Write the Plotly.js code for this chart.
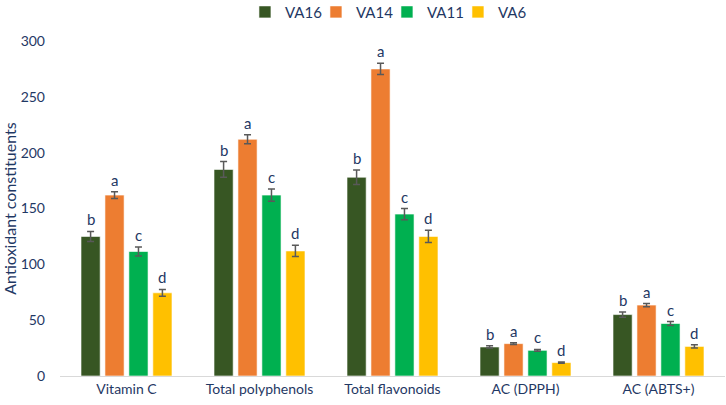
<!DOCTYPE html>
<html>
<head>
<meta charset="utf-8">
<script src="https://cdn.plot.ly/plotly-3.0.1.min.js"></script>
<style>html,body{margin:0;padding:0;background:#fff;}#chart{width:726px;height:405px;}</style>
</head>
<body>
<div id="chart"></div>
<script>
const categories = ["Vitamin C", "Total polyphenols", "Total flavonoids", "AC (DPPH)", "AC (ABTS+)"];
const seriesNames = ["VA16", "VA14", "VA11", "VA6"];
const va16 = [125, 185, 178, 26, 55];
const va14 = [162, 212, 275, 29, 63.5];
const va11 = [111.5, 162, 145, 23, 47];
const va6 = [74.5, 112, 125, 12, 26.5];
const va16Err = [4.5, 7, 6.5, 1, 2.3];
const va14Err = [3, 4, 5, 0.7, 1.4];
const va11Err = [4, 5.5, 5, 0.8, 1.8];
const va6Err = [3, 5, 5.5, 0.6, 1.5];
const va16Letters = ["b", "b", "b", "b", "b"];
const va14Letters = ["a", "a", "a", "a", "a"];
const va11Letters = ["c", "c", "c", "c", "c"];
const va6Letters = ["d", "d", "d", "d", "d"];
const yTicks = [0, 50, 100, 150, 200, 250, 300];

const values = [va16, va14, va11, va6];
const errs = [va16Err, va14Err, va11Err, va6Err];
const letters = [va16Letters, va14Letters, va11Letters, va6Letters];
const colors = ["#375623", "#ED7D31", "#00B050", "#FFC000"];
const navy = "#1F3864";
const fam = "Lato, 'Open Sans', sans-serif";
const bargap = 0.28;
const nS = seriesNames.length;
const slot = (1 - bargap) / nS;

const traces = seriesNames.map((name, s) => ({
  type: "bar",
  name: name,
  x: categories,
  y: values[s],
  marker: {color: colors[s], line: {color: "#ffffff", width: 0.6}},
  error_y: {type: "data", array: errs[s], visible: true, color: "#595959", thickness: 1.5, width: 3.5},
  hoverinfo: "x+y+name"
}));

const annotations = [];
seriesNames.forEach((name, s) => {
  categories.forEach((c, i) => {
    annotations.push({
      x: i - (1 - bargap) / 2 + slot * (s + 0.5),
      y: values[s][i] + errs[s][i],
      xref: "x", yref: "y",
      text: letters[s][i],
      showarrow: false,
      yanchor: "bottom",
      yshift: 1,
      font: {family: fam, size: 15, color: navy}
    });
  });
});

const layout = {
  width: 726, height: 405,
  margin: {l: 60, r: 1, t: 41, b: 29, autoexpand: false},
  paper_bgcolor: "#ffffff", plot_bgcolor: "#ffffff",
  barmode: "group",
  bargap: bargap,
  bargroupgap: 0.2,
  showlegend: true,
  legend: {
    orientation: "h", xref: "container", yref: "container",
    x: 0.533, xanchor: "center", y: 0.97, yanchor: "middle",
    font: {family: fam, size: 15, color: navy},
    itemwidth: 30, entrywidth: 26, entrywidthmode: "pixels", tracegroupgap: 0,
    bgcolor: "rgba(0,0,0,0)"
  },
  xaxis: {
    type: "category",
    showgrid: false, zeroline: false,
    showline: true, linecolor: "#D9D9D9", linewidth: 1,
    ticks: "", tickfont: {family: fam, size: 14, color: navy},
    fixedrange: true
  },
  yaxis: {
    range: [0, 300],
    tickvals: yTicks,
    showgrid: false, zeroline: false, showline: false,
    ticks: "", ticklabelstandoff: 14,
    tickfont: {family: fam, size: 14, color: navy},
    title: {text: "Antioxidant constituents", font: {family: fam, size: 16, color: navy}, standoff: 10},
    fixedrange: true
  },
  annotations: annotations,
  font: {family: fam, color: navy}
};

Plotly.newPlot("chart", traces, layout, {displayModeBar: false, staticPlot: true});
</script>
</body>
</html>
